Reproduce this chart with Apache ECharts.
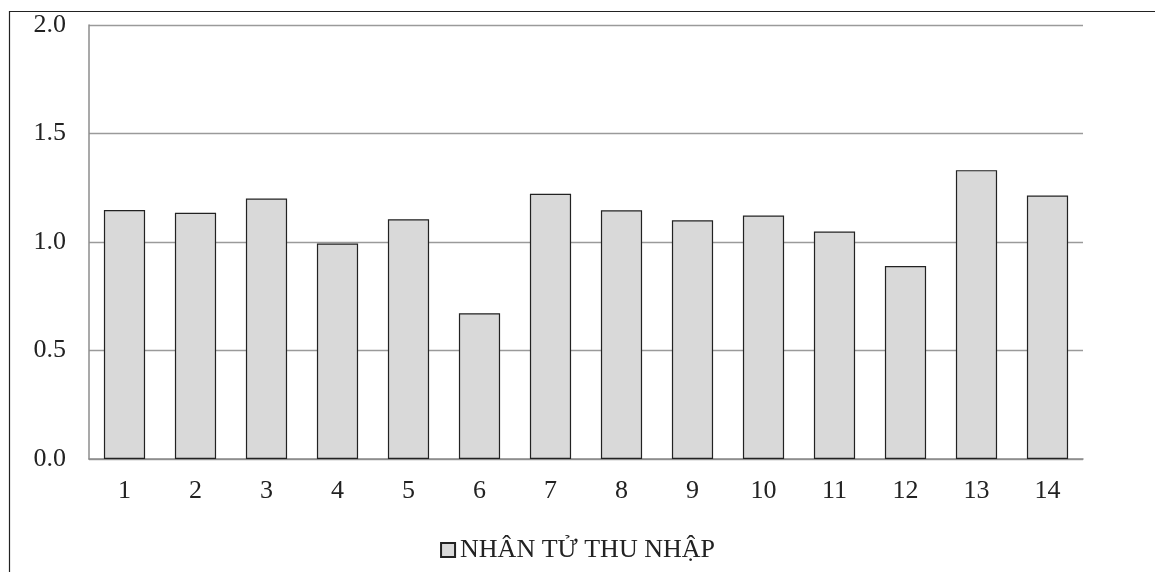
<!DOCTYPE html>
<html>
<head>
<meta charset="utf-8">
<script src="https://cdn.jsdelivr.net/npm/echarts@6/dist/echarts.min.js"></script>
<style>
  html, body { margin: 0; padding: 0; background: #fff; }
  #main { width: 1155px; height: 572px; }
</style>
</head>
<body>
<div id="main"></div>
<script>
// số liệu
const categories = ['1', '2', '3', '4', '5', '6', '7', '8', '9', '10', '11', '12', '13', '14']
const incomeFactor = [1.147, 1.135, 1.20, 0.993, 1.105, 0.672, 1.222, 1.146, 1.100, 1.122, 1.048, 0.889, 1.331, 1.214]
const yTicks = [0, 0.5, 1.0, 1.5, 2.0]
const seriesName = 'NHÂN TỬ THU NHẬP'

let chart = echarts.init(document.getElementById('main'))
let font = 'Liberation Serif, Times New Roman, serif'
let option = {
  animation: false,
  textStyle: { fontFamily: font },
  // khung ngoài
  graphic: [{
    type: 'rect',
    shape: { x: 9.5, y: 11.5, width: 1300, height: 700 },
    style: { fill: 'none', stroke: '#222', lineWidth: 1.2 },
    silent: true
  }],
  grid: { left: 89, right: 72, top: 25, bottom: 113 },
  legend: {
    bottom: 4,
    left: 'center',
    itemWidth: 14,
    itemHeight: 14,
    icon: 'rect',
    textStyle: { fontFamily: font, fontSize: 26, color: '#222' },
    data: [seriesName]
  },
  xAxis: {
    type: 'category',
    data: categories,
    axisLine: { lineStyle: { color: '#8c8c8c', width: 1.5 } },
    axisTick: { show: false },
    axisLabel: { fontFamily: font, fontSize: 26, color: '#222', margin: 19 }
  },
  yAxis: {
    type: 'value',
    min: yTicks[0],
    max: yTicks[yTicks.length - 1],
    interval: 0.5,
    axisLine: { show: true, lineStyle: { color: '#8c8c8c', width: 1.5 } },
    axisTick: { show: false },
    splitLine: { lineStyle: { color: '#9a9a9a', width: 1.3 } },
    axisLabel: {
      fontFamily: font, fontSize: 26, color: '#222', margin: 23,
      formatter: v => v.toFixed(1)
    }
  },
  series: [{
    name: seriesName,
    type: 'bar',
    data: incomeFactor,
    barCategoryGap: '42%',
    itemStyle: { color: '#d9d9d9', borderColor: '#222', borderWidth: 1.2 }
  }]
}
chart.setOption(option)
</script>
</body>
</html>
